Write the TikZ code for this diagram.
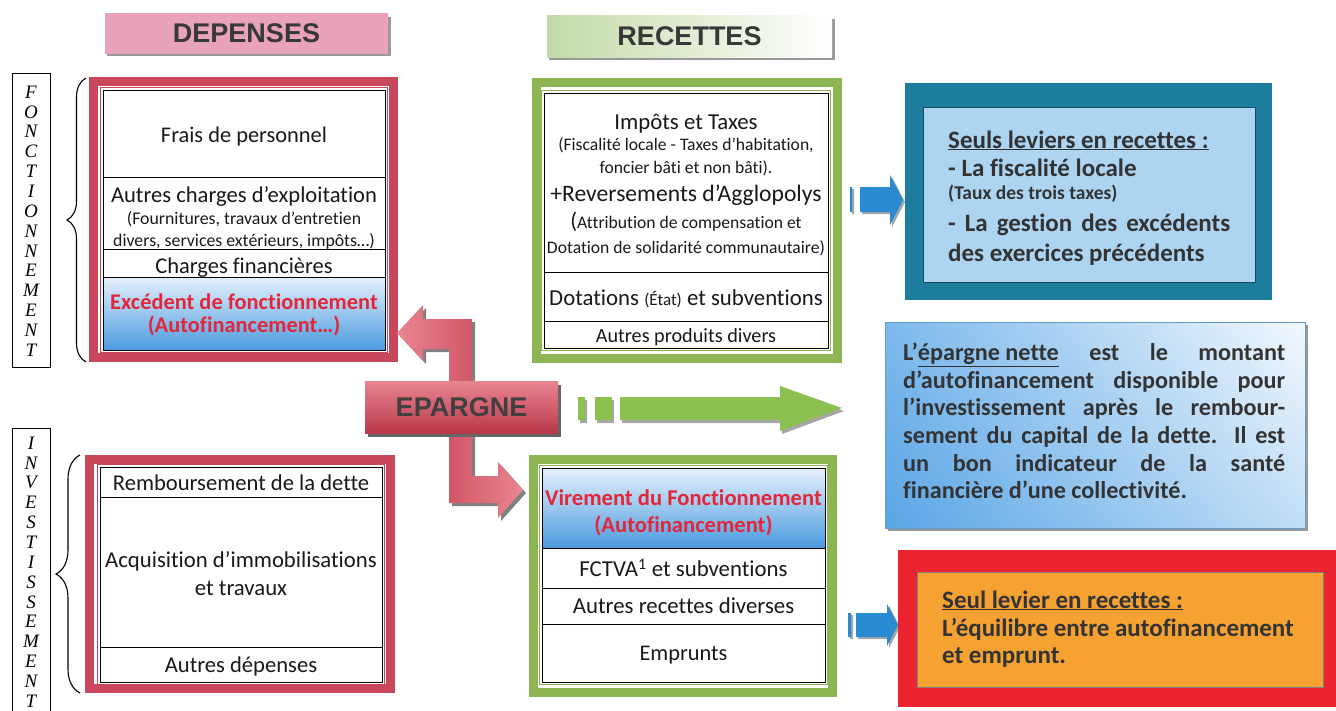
\documentclass[tikz,border=0pt]{standalone}
\usepackage{fontspec}
\setmainfont{Carlito}[Ligatures=CommonOff]
\newfontfamily\headfont{Liberation Sans}
\newfontfamily\vfont{Liberation Serif}
\usetikzlibrary{decorations.pathreplacing,shadings}
\newcommand\fs[1]{\fontsize{#1}{#1}\selectfont}
\definecolor{redF}{HTML}{C9475A}
\definecolor{greenF}{HTML}{8DB554}
\definecolor{redT}{HTML}{E3263A}
\definecolor{myteal}{HTML}{1C7D9C}
\definecolor{ltblue}{HTML}{ADD4F1}
\definecolor{orangeF}{HTML}{F6A233}
\definecolor{redO}{HTML}{EC2330}
\definecolor{arrowblue}{HTML}{2A8AD2}
\definecolor{arrowgreen}{HTML}{8CC152}
\definecolor{cellT}{HTML}{E4F0FB}
\definecolor{cellB}{HTML}{4A9ADF}
\definecolor{pinkH}{HTML}{E8A3B8}
\definecolor{greenH}{HTML}{C4DAA8}
\definecolor{epTop}{HTML}{E98592}
\definecolor{epMid}{HTML}{D25766}
\definecolor{epBot}{HTML}{B93849}
\definecolor{txtgray}{HTML}{333333}
\definecolor{mbUL}{HTML}{7DB9EC}
\definecolor{mbLL}{HTML}{5AA5E6}
\definecolor{mbUR}{HTML}{F2F8FD}
\definecolor{mbLR}{HTML}{C2DFF6}
\begin{document}
\begin{tikzpicture}[x=1pt,y=-1pt,
  cell/.style={draw=black, line width=1.3pt, fill=white, inner sep=0pt, anchor=north west},
  scell/.style={draw=black, line width=1.3pt, top color=cellT, bottom color=cellB, inner sep=0pt, anchor=north west},
  tx/.style={inner sep=0pt, align=center, anchor=base, font=\fs{#1}, yshift={-0.34*#1*1pt}, text=black!90},
  txb/.style={tx=#1, font=\bfseries\fs{#1}, text=redT},
  tl/.style={inner sep=0pt, anchor=base west, font=\bfseries\fs{#1}, yshift={-0.32*#1*1pt}, text=txtgray},
  band/.style={line width=9pt},
  thin/.style={line width=1.5pt},
  hdr/.style={inner sep=0pt, font=\headfont\bfseries\fs{27}, text=black!78},
  vert/.style={inner sep=0pt, align=center, font=\vfont\itshape\fs{19}},
  brc/.style={line width=1.1pt, decorate}]
\useasboundingbox (0,0) rectangle (1336,710);
\begin{scope}
\clip (0,0) rectangle (1336,710);

% ---------- headers ----------
\fill[black!40] (107,17) rectangle (391,56);
\node[hdr, minimum width=283pt, minimum height=40pt, top color=pinkH, middle color=pinkH!20, bottom color=pinkH] (dep) at (246.5,33) {DEPENSES};
\fill[black!40] (549,19) rectangle (835,60);
\node[hdr, minimum width=285pt, minimum height=42pt, left color=greenH, right color=white] (rec) at (689.5,36) {RECETTES};

% ---------- vertical labels ----------
\draw[line width=0.8pt] (12,73) rectangle (50,367);
\node[vert] (fonc) at (31,221) {F\\[0.85pt]O\\[0.85pt]N\\[0.85pt]C\\[0.85pt]T\\[0.85pt]I\\[0.85pt]O\\[0.85pt]N\\[0.85pt]N\\[0.85pt]E\\[0.85pt]M\\[0.85pt]E\\[0.85pt]N\\[0.85pt]T};
\draw[line width=0.8pt] (12,428) rectangle (50,740);
\node[vert] (inv) at (31,572) {I\\[0.85pt]N\\[0.85pt]V\\[0.85pt]E\\[0.85pt]S\\[0.85pt]T\\[0.85pt]I\\[0.85pt]S\\[0.85pt]S\\[0.85pt]E\\[0.85pt]M\\[0.85pt]E\\[0.85pt]N\\[0.85pt]T};

% ---------- braces ----------
\draw[brc, decoration={brace, amplitude=19pt}] (86,362) -- (86,78);
\draw[brc, decoration={brace, amplitude=24pt}] (80,693) -- (80,455);

% ---------- DEPENSES fonctionnement ----------
\draw[redF, band] (93.5,81.5) rectangle (393.5,357.5);
\draw[redF, thin] (100.5,87.5) rectangle (387.5,352.5);
\node[cell, minimum width=282pt, minimum height=87pt] (frais) at (103,90) {};
\node[cell, minimum width=282pt, minimum height=72pt] (autch) at (103,177) {};
\node[cell, minimum width=282pt, minimum height=28pt] (chfin) at (103,249) {};
\node[scell, minimum width=282pt, minimum height=73pt] (exc) at (103,277) {};
\node[tx=22.4] (t1) at (244,135) {Frais de personnel};
\node[tx=22.6] (t2) at (244,195) {Autres charges d’exploitation};
\node[tx=17.8] (t3) at (244,218) {(Fournitures, travaux d’entretien};
\node[tx=17.8] (t4) at (244,240) {divers, services extérieurs, impôts…)};
\node[tx=22.5] (t5) at (244,266) {Charges financières};
\node[txb=22.4] (t6) at (244,302) {Excédent de fonctionnement};
\node[txb=22.4] (t7) at (244,325) {(Autofinancement…)};

% ---------- RECETTES fonctionnement ----------
\draw[greenF, band] (536.5,82.5) rectangle (837.5,358.5);
\draw[greenF, thin] (541.5,90.5) rectangle (830.5,350.5);
\node[cell, minimum width=284pt, minimum height=179pt] (imp) at (544,93) {};
\node[cell, minimum width=284pt, minimum height=49pt] (dot) at (544,272) {};
\node[cell, minimum width=284pt, minimum height=27pt] (aprod) at (544,321) {};
\node[tx=22.8] (r1) at (686,122) {Impôts et Taxes};
\node[tx=17.6] (r2) at (686,145) {(Fiscalité locale - Taxes d’habitation,};
\node[tx=17.6] (r3) at (686,168) {foncier bâti et non bâti).};
\node[tx=23.6] (r4) at (686,193) {+Reversements d’Agglopolys};
\node[tx=17.6] (r5) at (686,223) {{\fs{22.5}(}Attribution de compensation et};
\node[tx=17.6] (r6) at (686,248) {Dotation de solidarité communautaire)};
\node[tx=22.8] (r7) at (686,298) {Dotations {\fs{17}(État)} et subventions};
\node[tx=20.2] (r8) at (686,336) {Autres produits divers};

% ---------- DEPENSES investissement ----------
\draw[redF, band] (89.5,459.5) rectangle (390.5,688.5);
\draw[redF, thin] (97.5,464.5) rectangle (384.5,684.5);
\node[cell, minimum width=282pt, minimum height=30pt] (remb) at (100,467) {};
\node[cell, minimum width=282pt, minimum height=150pt] (acq) at (100,497) {};
\node[cell, minimum width=282pt, minimum height=35pt] (adep) at (100,647) {};
\node[tx=22.6] (d1) at (241,483) {Remboursement de la dette};
\node[tx=22.7] (d2) at (241,560) {Acquisition d’immobilisations};
\node[tx=22.7] (d3) at (241,588) {et travaux};
\node[tx=22.6] (d4) at (241,665) {Autres dépenses};

% ---------- RECETTES investissement ----------
\draw[greenF, band] (533.5,459.5) rectangle (832.5,692.5);
\draw[greenF, thin] (539.5,465.5) rectangle (827.5,684.5);
\node[scell, minimum width=283pt, minimum height=80pt] (vir) at (542,468) {};
\node[cell, minimum width=283pt, minimum height=40pt] (fct) at (542,548) {};
\node[cell, minimum width=283pt, minimum height=36pt] (arec) at (542,588) {};
\node[cell, minimum width=283pt, minimum height=58pt] (emp) at (542,624) {};
\node[txb=22.6] (v1) at (683.5,498) {Virement du Fonctionnement};
\node[txb=22.6] (v2) at (683.5,525) {(Autofinancement)};
\node[tx=22.8] (v3) at (683.5,569) {FCTVA\textsuperscript{1} et subventions};
\node[tx=22.8] (v4) at (683.5,606) {Autres recettes diverses};
\node[tx=22.4] (v5) at (683.5,653) {Emprunts};

% ---------- red EPARGNE arrows ----------
\fill[black!50, shift={(3,3)}] (472,381) -- (472,319) -- (423,319) -- (423,305) -- (397,333) -- (423,361) -- (423,349) -- (449,349) -- (449,381) -- cycle;
\shade[left color=epTop, right color=epMid] (472,381) -- (472,319) -- (423,319) -- (423,305) -- (397,333) -- (423,361) -- (423,349) -- (449,349) -- (449,381) -- cycle;
\fill[black!50, shift={(3,3)}] (449,433) -- (449,503) -- (498,503) -- (498,518) -- (523,490) -- (498,462) -- (498,476) -- (472,476) -- (472,433) -- cycle;
\shade[left color=epMid, right color=epTop] (449,433) -- (449,503) -- (498,503) -- (498,518) -- (523,490) -- (498,462) -- (498,476) -- (472,476) -- (472,433) -- cycle;
\fill[black!60] (368,385) rectangle (561,437);
\node[hdr, minimum width=193pt, minimum height=52pt, top color=epTop, middle color=epMid, bottom color=epBot, text=black!75] (ep) at (461.5,407) {EPARGNE};

% ---------- green arrow ----------
\begin{scope}[shift={(2,3)}]
\fill[black!35] (578,397) rectangle (585,420) (595,397) rectangle (612,420) (620,397) rectangle (780,420) (780,386) -- (842,408) -- (780,431) -- cycle;
\end{scope}
\fill[arrowgreen] (578,397) rectangle (585,420) (595,397) rectangle (612,420) (620,397) rectangle (780,420) (780,386) -- (842,408) -- (780,431) -- cycle;

% ---------- blue arrows ----------
\begin{scope}[shift={(2,2)}]
\fill[black!35] (850,187) rectangle (852,212) (860,187) rectangle (890,212) (890,175) -- (903,200) -- (890,225) -- cycle;
\fill[black!35] (848,613) rectangle (851,637) (856,613) rectangle (887,637) (887,604) -- (898,625) -- (887,646) -- cycle;
\end{scope}
\fill[arrowblue] (850,187) rectangle (852,212) (860,187) rectangle (890,212) (890,175) -- (903,200) -- (890,225) -- cycle;
\fill[arrowblue] (848,613) rectangle (851,637) (856,613) rectangle (887,637) (887,604) -- (898,625) -- (887,646) -- cycle;

% ---------- blue lever box ----------
\node[fill=myteal, minimum width=367pt, minimum height=217pt, anchor=north west, inner sep=0pt] (lev) at (905,83) {};
\node[fill=ltblue, draw=myteal!60!black, line width=0.5pt, minimum width=332pt, minimum height=175pt, anchor=north west, inner sep=0pt] (levin) at (923,107) {};
\node[tl=25] (l1) at (948,140) {\underline{Seuls leviers en recettes :}};
\node[tl=25] (l2) at (948,168) {- La fiscalité locale};
\node[tl=19.5] (l3) at (948,193) {(Taux des trois taxes)};
\node[tl=25] (l4) at (948,223) {\makebox[282pt][s]{- La gestion des excédents}};
\node[tl=25] (l5) at (948,253) {des exercices précédents};

% ---------- middle text box ----------
\fill[black!40] (888,325) rectangle (1308,531);
\node[draw=mbLL!70!gray, line width=0.6pt, minimum width=420pt, minimum height=206pt, anchor=north west, inner sep=0pt,
  upper left=mbUL, upper right=mbUR, lower left=mbLL, lower right=mbLR] (epn) at (885,322) {};
\node[tl=24.2] (e1) at (903,353) {\makebox[382pt][s]{L’\underline{épargne nette} est le montant}};
\node[tl=24.2] (e2) at (903,380.6) {\makebox[382pt][s]{d’autofinancement disponible pour}};
\node[tl=24.2] (e3) at (903,408.2) {\makebox[382pt][s]{l’investissement après le rembour-}};
\node[tl=24.2] (e4) at (903,435.8) {\makebox[382pt][s]{sement du capital de la dette. Il est}};
\node[tl=24.2] (e5) at (903,463.4) {\makebox[382pt][s]{un bon indicateur de la santé}};
\node[tl=24.2] (e6) at (903,491) {financière d’une collectivité.};

% ---------- orange lever box ----------
\node[fill=redO, minimum width=450pt, minimum height=157pt, anchor=north west, inner sep=0pt] (ora) at (898,550) {};
\node[fill=orangeF, draw=black!50, line width=0.6pt, minimum width=406pt, minimum height=115pt, anchor=north west, inner sep=0pt] (orin) at (917,572) {};
\node[tl=25] (o1) at (942,600) {\underline{Seul levier en recettes :}};
\node[tl=25] (o2) at (942,628) {L’équilibre entre autofinancement};
\node[tl=25] (o3) at (942,655) {et emprunt.};
\end{scope}
\end{tikzpicture}
\end{document}
